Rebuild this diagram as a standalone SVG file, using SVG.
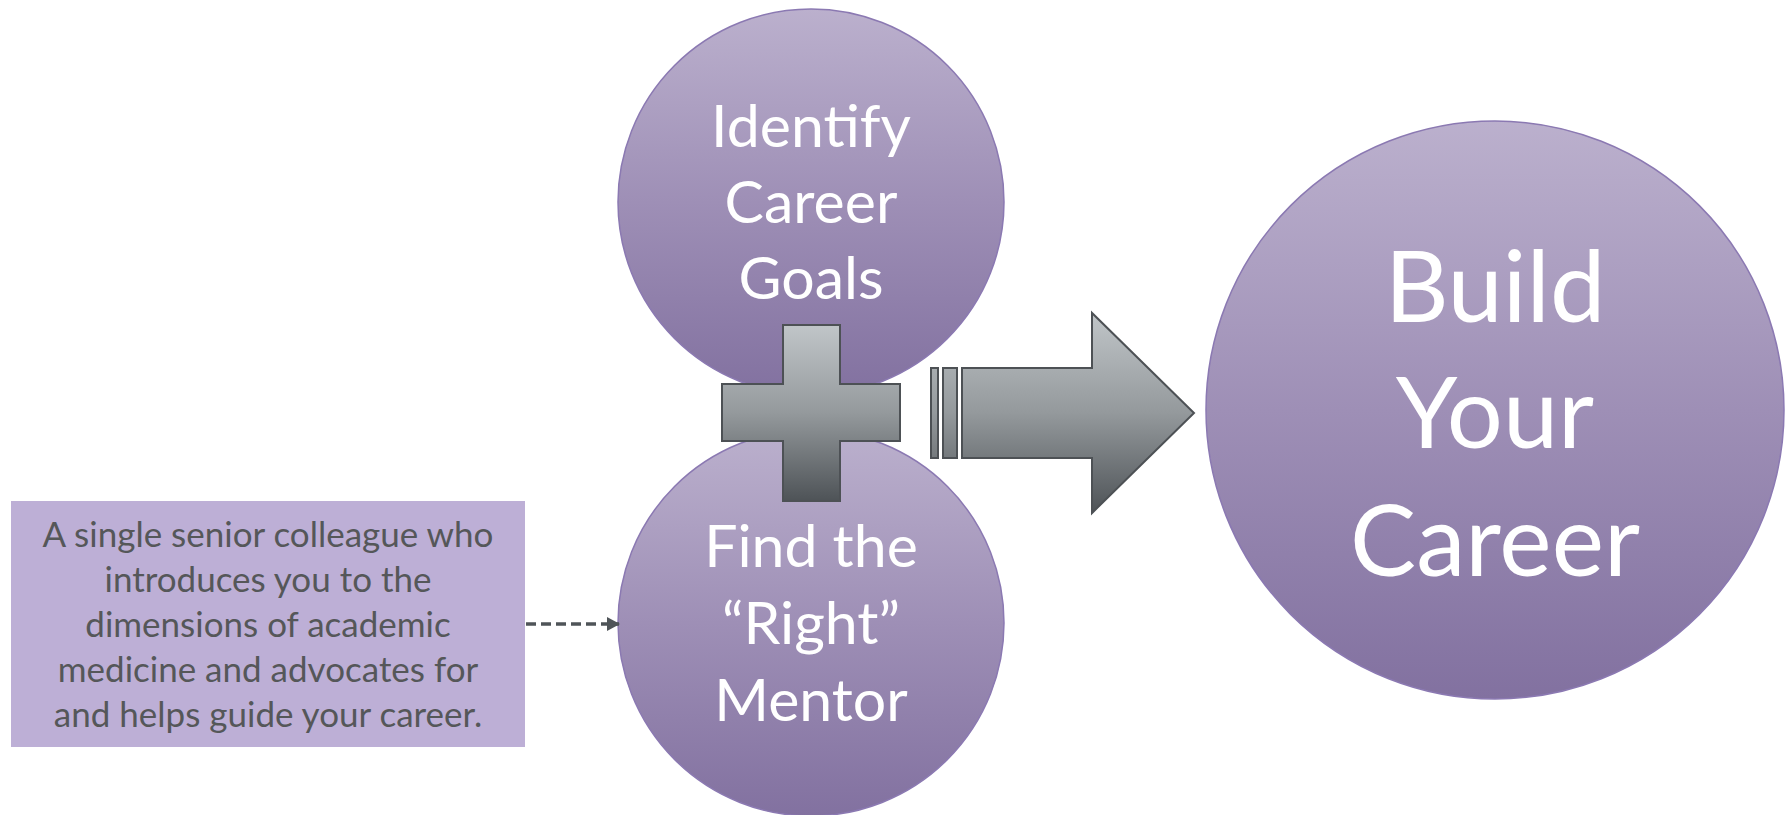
<svg xmlns="http://www.w3.org/2000/svg" width="1789" height="815" viewBox="0 0 1789 815">
<defs>
<linearGradient id="gPurple" x1="0" y1="0" x2="0" y2="1">
<stop offset="0" stop-color="#BBB0CD"/>
<stop offset="0.5" stop-color="#9E8FB6"/>
<stop offset="1" stop-color="#8271A0"/>
</linearGradient>
<linearGradient id="gPlus" gradientUnits="userSpaceOnUse" x1="0" y1="325" x2="0" y2="501">
<stop offset="0" stop-color="#C0C5C8"/>
<stop offset="0.5" stop-color="#94999C"/>
<stop offset="1" stop-color="#4E5357"/>
</linearGradient>
<linearGradient id="gArrow" gradientUnits="userSpaceOnUse" x1="0" y1="313" x2="0" y2="513">
<stop offset="0" stop-color="#C0C5C8"/>
<stop offset="0.5" stop-color="#94999C"/>
<stop offset="1" stop-color="#4E5357"/>
</linearGradient>
<marker id="tri" markerWidth="13" markerHeight="14" refX="12" refY="7" orient="auto" markerUnits="userSpaceOnUse">
<path d="M0,0 L13,7 L0,14 Z" fill="#4F5458"/>
</marker>
</defs>
<style>
.circ{fill:url(#gPurple);stroke:#8B79B2;stroke-width:1.5}
.ctext{font-family:Lato,"Open Sans","Liberation Sans",sans-serif;fill:#FFFFFF;text-anchor:middle}
.gray{stroke:#4D5155;stroke-width:2;stroke-linejoin:miter}
.btext{font-family:Lato,"Open Sans","Liberation Sans",sans-serif;fill:#555759;text-anchor:middle;font-size:35px}
</style>
<rect x="0" y="0" width="1789" height="815" fill="#FFFFFF"/>

<g id="node-goals">
<circle class="circ" cx="811" cy="202" r="193"/>
<text class="ctext" font-size="59" x="811" y="147">Identify</text>
<text class="ctext" font-size="59" x="811" y="223">Career</text>
<text class="ctext" font-size="59" x="811" y="299">Goals</text>
</g>

<g id="node-mentor">
<circle class="circ" cx="811" cy="623" r="193"/>
<text class="ctext" font-size="59" x="811" y="567">Find the</text>
<text class="ctext" font-size="59" x="811" y="644">“Right”</text>
<text class="ctext" font-size="59" x="811" y="721">Mentor</text>
</g>

<g id="node-plus">
<polygon class="gray" fill="url(#gPlus)" points="783,325 840,325 840,384 900,384 900,441 840,441 840,501 783,501 783,441 722,441 722,384 783,384"/>
</g>

<g id="node-arrow">
<rect class="gray" fill="url(#gArrow)" x="931" y="368" width="7" height="90"/>
<rect class="gray" fill="url(#gArrow)" x="943" y="368" width="14" height="90"/>
<polygon class="gray" fill="url(#gArrow)" points="962,368 1092,368 1092,313 1194,413 1092,513 1092,458 962,458"/>
</g>

<g id="node-career">
<circle class="circ" cx="1495" cy="410" r="289"/>
<text class="ctext" font-size="99" x="1495" y="322">Build</text>
<text class="ctext" font-size="99" x="1495" y="448">Your</text>
<text class="ctext" font-size="99" x="1495" y="576">Career</text>
</g>

<g id="node-definition">
<rect x="11" y="501" width="514" height="246" fill="#BDAFD6"/>
<text class="btext" x="268" y="547">A single senior colleague who</text>
<text class="btext" x="268" y="592">introduces you to the</text>
<text class="btext" x="268" y="637">dimensions of academic</text>
<text class="btext" x="268" y="682">medicine and advocates for</text>
<text class="btext" x="268" y="727">and helps guide your career.</text>
</g>

<g id="connectors">
<line x1="526" y1="624" x2="619" y2="624" stroke="#4F5458" stroke-width="3.5" stroke-dasharray="10,5" marker-end="url(#tri)"/>
</g>
</svg>
